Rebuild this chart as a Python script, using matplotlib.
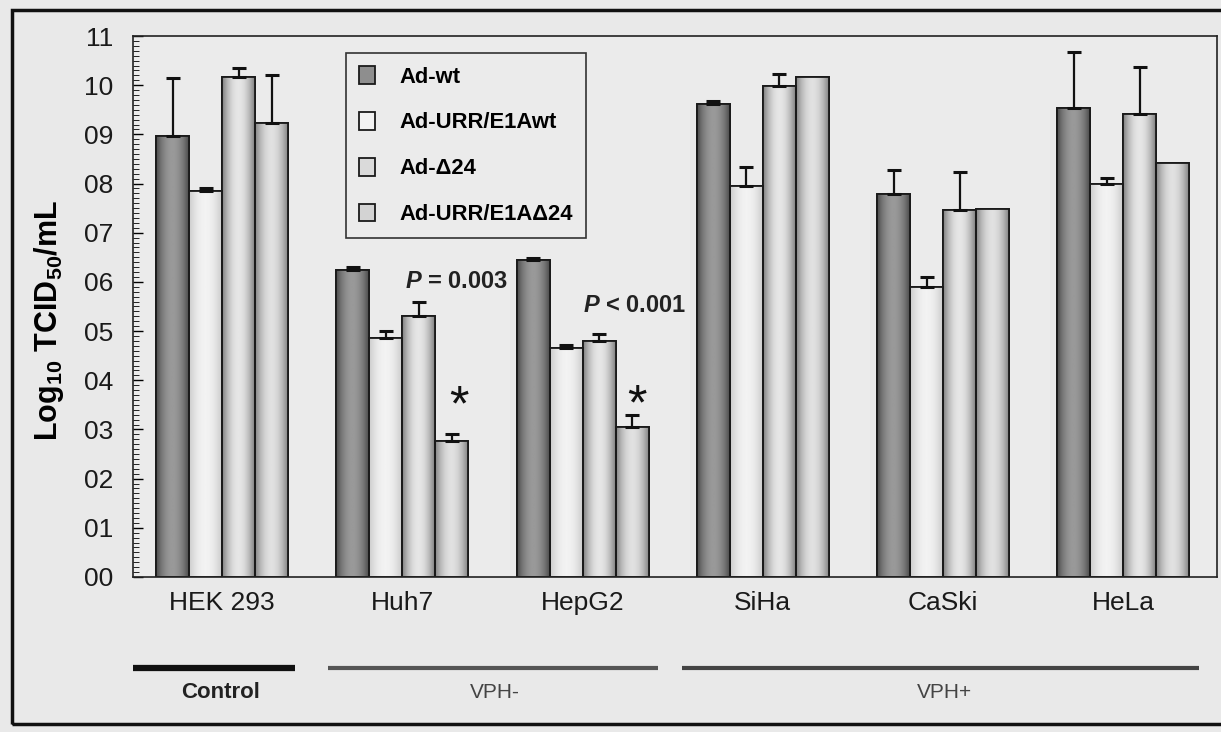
import numpy as np
import matplotlib
matplotlib.use("Agg")
import matplotlib.pyplot as plt
import matplotlib.transforms as mtransforms
from matplotlib.patches import Rectangle
from matplotlib.ticker import MultipleLocator

plt.rcParams['font.family'] = ['Liberation Sans', 'DejaVu Sans']
plt.rcParams['mathtext.fontset'] = 'custom'
plt.rcParams['mathtext.rm'] = 'Liberation Sans'
plt.rcParams['mathtext.it'] = 'Liberation Sans:italic:bold'
plt.rcParams['mathtext.bf'] = 'Liberation Sans:bold'

# data (log10 TCID50/mL)
cell_lines = ['HEK 293', 'Huh7', 'HepG2', 'SiHa', 'CaSki', 'HeLa']
series = ['Ad-wt', 'Ad-URR/E1Awt', 'Ad-Δ24', 'Ad-URR/E1AΔ24']

ad_wt = [8.97, 6.25, 6.45, 9.62, 7.78, 9.54]
ad_urr_wt = [7.85, 4.85, 4.65, 7.95, 5.89, 7.99]
ad_d24 = [10.17, 5.30, 4.80, 9.99, 7.47, 9.41]
ad_urr_d24 = [9.23, 2.77, 3.05, 10.17, 7.48, 8.42]

err_wt = [1.18, 0.05, 0.03, 0.05, 0.50, 1.14]
err_urr_wt = [0.05, 0.15, 0.06, 0.39, 0.21, 0.12]
err_d24 = [0.18, 0.30, 0.15, 0.24, 0.76, 0.96]
err_urr_d24 = [0.97, 0.13, 0.24, 0.0, 0.0, 0.0]

groups = ['Control', 'VPH-', 'VPH+']
group_spans = [(-0.494, 0.405), (0.588, 2.42), (2.55, 5.42)]

values = [ad_wt, ad_urr_wt, ad_d24, ad_urr_d24]
errors = [err_wt, err_urr_wt, err_d24, err_urr_d24]
colors = ['#8e8e8e', '#f2f2f2', '#dadada', '#d3d3d3']
# shading of the bars (grey level at bar centre / at bar edges)
shade_mid = [0.60, 0.95, 0.90, 0.88]
shade_edge = [0.30, 0.80, 0.50, 0.52]

bg = '#e9e9e9'
fig = plt.figure(figsize=(12.21, 7.32), dpi=100, facecolor=bg)
ax = fig.add_axes([0.109, 0.2118, 0.8877, 0.739])
ax.set_facecolor('#ebebeb')

x = np.arange(len(cell_lines))
w = 0.183
t = np.linspace(0, 1, 40)
for i in range(4):
    pos = x + (i - 1.5) * w
    err = np.array(errors[i])
    bars = ax.bar(pos, values[i], width=w, color=colors[i], edgecolor='#1a1a1a',
                  linewidth=1.3, label=series[i], zorder=2)
    grad = shade_mid[i] - (shade_mid[i] - shade_edge[i]) * np.abs(2 * t - 1) ** 2
    for r in bars:
        im = ax.imshow(grad[np.newaxis, :], cmap='gray', vmin=0, vmax=1,
                       extent=(r.get_x(), r.get_x() + r.get_width(), 0, r.get_height()),
                       aspect='auto', interpolation='bilinear', zorder=2.1)
        im.set_clip_path(r)
    ax.bar(pos, values[i], width=w, fill=False, edgecolor='#1a1a1a',
           linewidth=1.3, zorder=2.2)
    m = err > 0
    ax.errorbar(pos[m], np.array(values[i])[m],
                yerr=[np.zeros(m.sum()), err[m]], fmt='none', ecolor='#111111',
                elinewidth=1.6, capsize=5, capthick=2.2, zorder=3)

ax.set_xlim(-0.494, 5.52)
ax.set_ylim(0, 11)
ax.set_xticks(x)
ax.set_xticklabels(cell_lines, fontsize=19, color='#1a1a1a')
ax.tick_params(axis='x', length=0, pad=10)
ax.set_yticks(range(12))
ax.set_yticklabels(['%02d' % v for v in range(12)], fontsize=19, color='#1a1a1a')
ax.yaxis.set_minor_locator(MultipleLocator(0.1))
ax.tick_params(axis='y', which='major', direction='in', length=7, width=1, pad=14)
ax.tick_params(axis='y', which='minor', direction='in', length=4, width=0.6)
for s in ax.spines.values():
    s.set_linewidth(1.2)
    s.set_color('#222222')

ax.set_ylabel(r'$\mathbf{Log_{10}\ TCID_{50}/mL}$', fontsize=22)
ax.yaxis.set_label_coords(-0.062, 0.475)

leg = ax.legend(loc='upper left', bbox_to_anchor=(0.1965, 0.9686),
                prop={'weight': 'bold', 'size': 15.8}, frameon=True, fancybox=False,
                borderpad=0.6, labelspacing=1.12, handlelength=0.72,
                handleheight=0.85, handletextpad=1.1, borderaxespad=0)
leg.get_frame().set_edgecolor('#333333')
leg.get_frame().set_facecolor('#ebebeb')
leg.get_frame().set_linewidth(1.2)
leg.get_frame().set_alpha(1)

ax.text(1.016, 6.0, r'$P$ = 0.003', fontsize=17, fontweight='bold',
        color='#222222', va='center', ha='left')
ax.text(2.0, 5.53, r'$P$ < 0.001', fontsize=17, fontweight='bold',
        color='#222222', va='center', ha='left')
ax.text(1.315, 3.45, '*', fontsize=36, ha='center', va='center', color='#111111')
ax.text(2.30, 3.47, '*', fontsize=36, ha='center', va='center', color='#111111')

# group bars below the axis
trans = mtransforms.blended_transform_factory(ax.transData, ax.transAxes)
line_colors = ['#111111', '#555555', '#444444']
line_widths = [4.5, 3, 3]
label_x = [-0.01, 1.515, 4.01]
for g, (a, b), c, lw, lx in zip(groups, group_spans, line_colors, line_widths, label_x):
    ax.plot([a, b], [-0.168, -0.168], color=c, lw=lw, transform=trans,
            clip_on=False, solid_capstyle='butt')
    ax.text(lx, -0.214, g, transform=trans, ha='center', va='center',
            fontsize=16 if g == 'Control' else 15,
            fontweight='bold' if g == 'Control' else 'normal',
            color='#222222' if g == 'Control' else '#444444')

# outer frame of the figure
fig.patches.append(Rectangle((12 / 1221, 1 - 724 / 732), 1.0, 714 / 732,
                             transform=fig.transFigure, fill=False,
                             edgecolor='#111111', linewidth=2.5))

fig.savefig('out.png', dpi=100, facecolor=bg)
